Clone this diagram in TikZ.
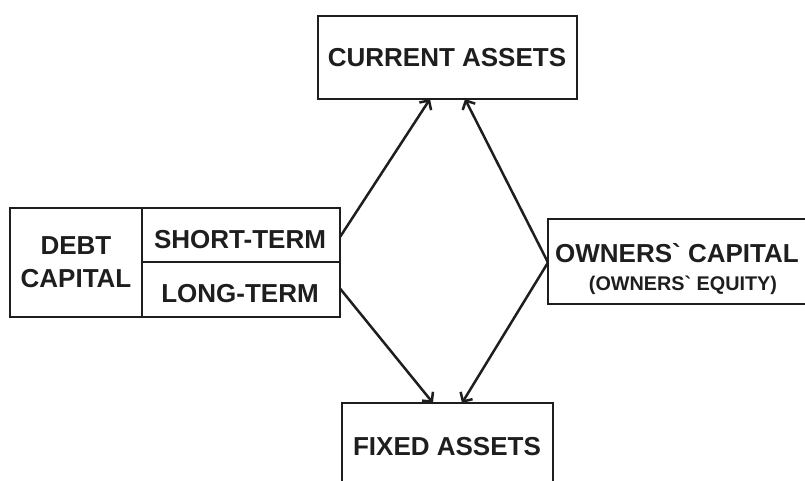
\documentclass[tikz,border=0pt]{standalone}
\usepackage{fontspec}
\newfontfamily\lib{Liberation Sans}
\usetikzlibrary{arrows.meta}
\definecolor{ink}{HTML}{1E1E1E}
\begin{document}
\begin{tikzpicture}[x=1pt,y=-1pt,
  box/.style={draw=ink, line width=1.8pt, anchor=north west, inner sep=0pt, outer sep=0pt},
  big/.style={font=\lib\fontsize{26}{30}\selectfont\bfseries, text=ink},
  small/.style={font=\lib\fontsize{19.8}{23}\selectfont\bfseries, text=ink},
  link/.style={draw=ink, line width=2.5pt, -{Straight Barb[length=7pt,width=14pt,line width=2.5pt]}}]
\useasboundingbox (0,0) rectangle (805,481);
\clip (0,0) rectangle (805,481);
% boxes
\node[box, minimum width=259pt, minimum height=83pt] (current) at (318,16) {};
\node[big] at (447,58) {CURRENT ASSETS};
\node[box, minimum width=132pt, minimum height=109pt] (debt) at (10,208) {};
\node[big, align=center] at (76,262) {DEBT\\[3pt]CAPITAL};
\node[box, minimum width=198pt, minimum height=54pt] (short) at (142,208) {};
\node[big] at (240,240) {SHORT-TERM};
\node[box, minimum width=198pt, minimum height=55pt] (long) at (142,262) {};
\node[big] at (240,294) {LONG-TERM};
\node[box, minimum width=267pt, minimum height=85pt] (owners) at (548,219) {};
\node[big] at (677,253) {OWNERS` CAPITAL};
\node[small] at (683,285) {(OWNERS` EQUITY)};
\node[box, minimum width=211pt, minimum height=92pt] (fixed) at (342,403) {};
\node[big] at (447,447) {FIXED ASSETS};
% connectors
\draw[link] ([yshift=-2pt]short.east) -- ([xshift=112pt]current.south west);
\draw[link] ([yshift=-1pt]owners.west) -- ([xshift=147pt]current.south west);
\draw[link] ([yshift=1pt]long.east) -- ([xshift=91pt]fixed.north west);
\draw[link] ([yshift=-1pt]owners.west) -- ([xshift=120pt]fixed.north west);
\end{tikzpicture}
\end{document}
